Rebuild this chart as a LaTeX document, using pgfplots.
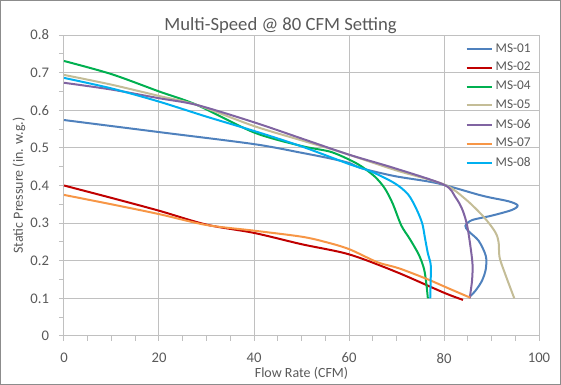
\documentclass[border=0pt]{standalone}
\usepackage{pgfplots}
\pgfplotsset{compat=1.18}
\usepackage{fontspec}
\setmainfont{Carlito}
\definecolor{txt}{HTML}{595959}
\definecolor{gridc}{HTML}{C0C0C0}
\definecolor{frame}{HTML}{8C8C8C}
\definecolor{c1}{HTML}{4F81BD}
\definecolor{c2}{HTML}{C00000}
\definecolor{c4}{HTML}{00B050}
\definecolor{c5}{HTML}{C4BD97}
\definecolor{c6}{HTML}{8064A2}
\definecolor{c7}{HTML}{F79646}
\definecolor{c8}{HTML}{00B0F0}
\begin{document}
\begin{tikzpicture}
\begin{axis}[
  scale only axis,
  width=356.25pt, height=225.75pt,
  xmin=0, xmax=100, ymin=0, ymax=0.8,
  xtick={0,20,...,100},
  ytick={0,0.1,...,0.8},
  minor x tick num=3,
  minor y tick num=1,
  xtick pos=left, ytick pos=left,
  tick align=outside,
  major tick length=3.75pt, minor tick length=3.75pt,
  every tick/.style={gridc, line width=0.75pt},
  grid=major,
  major grid style={gridc, line width=0.75pt},
  axis line style={gridc, line width=0.75pt},
  /pgf/number format/assume math mode=true,
  yticklabel style={/pgf/number format/fixed, /pgf/number format/precision=1},
  tick label style={font=\fontsize{11}{13}\selectfont, text=txt},
  xticklabel style={yshift=-5.5pt},
  yticklabel style={xshift=-4pt},
  xlabel={Flow Rate (CFM)},
  ylabel={Static Pressure (in. w.g.)},
  label style={font=\fontsize{10.5}{12}\selectfont, text=txt},
  xlabel style={yshift=4pt},
  ylabel style={yshift=-3pt},
  legend style={draw=none, fill=none, at={(0.845,0.982)}, anchor=north west,
    font=\fontsize{10}{12}\selectfont, text=txt, row sep=2.2pt,
    inner sep=0pt, legend cell align=left},
  legend image code/.code={\draw[#1, line width=1.5pt] (0pt,0pt) -- (19pt,0pt);},
  every axis plot/.append style={line width=1.5pt, smooth, tension=0.5},
  clip=false,
]
\coordinate (O) at (rel axis cs:0,0);
\addplot[c1] coordinates {(0,0.574)(20,0.542)(40,0.510)(50,0.487)(56,0.472)(60,0.460)(62.6,0.446)(69.6,0.425)(78.6,0.406)(88,0.373)(93.6,0.358)(95.5,0.347)(94.3,0.335)(90.1,0.320)(85.9,0.308)(84.5,0.293)(85.2,0.278)(87.3,0.253)(88.8,0.213)(88.8,0.178)(88,0.147)(86.6,0.120)(85.2,0.102)};
\addlegendentry{MS-01}
\addplot[c2] coordinates {(0,0.400)(10,0.367)(20,0.333)(30,0.296)(40,0.274)(50,0.244)(60,0.217)(70,0.170)(80,0.115)(84,0.096)};
\addlegendentry{MS-02}
\addplot[c4] coordinates {(0,0.731)(10,0.696)(20,0.650)(28,0.614)(40,0.541)(50,0.505)(56,0.490)(60,0.469)(62.6,0.451)(65.4,0.424)(67.5,0.393)(69.2,0.352)(71,0.294)(72.8,0.258)(74.7,0.216)(75.8,0.178)(76.3,0.137)(76.6,0.100)};
\addlegendentry{MS-04}
\addplot[c5] coordinates {(0,0.694)(10,0.668)(20,0.638)(28,0.614)(40,0.558)(50,0.520)(58,0.490)(70,0.440)(80,0.403)(84.5,0.364)(88.4,0.316)(90.8,0.276)(91.5,0.249)(91.7,0.209)(92.9,0.164)(94.8,0.100)};
\addlegendentry{MS-05}
\addplot[c6] coordinates {(0,0.673)(10,0.655)(20,0.632)(28,0.614)(40,0.568)(50,0.525)(60,0.482)(69.6,0.446)(80,0.402)(82.4,0.369)(83.8,0.338)(84.8,0.298)(85.5,0.244)(86,0.191)(85.9,0.147)(85.4,0.100)};
\addlegendentry{MS-06}
\addplot[c7] coordinates {(0,0.375)(10,0.350)(20,0.324)(30,0.295)(40,0.280)(50,0.264)(55,0.250)(60,0.231)(66,0.196)(70.5,0.180)(76.5,0.151)(80.7,0.128)(85.5,0.102)};
\addlegendentry{MS-07}
\addplot[c8] coordinates {(0,0.686)(10,0.658)(20,0.623)(30,0.583)(40,0.545)(50,0.504)(60,0.457)(64.7,0.437)(69.6,0.406)(72.4,0.377)(74.1,0.340)(75.4,0.300)(76,0.260)(76.6,0.220)(77.2,0.190)(77.2,0.150)(77.1,0.100)};
\addlegendentry{MS-08}
\end{axis}
\path ([shift={(-48pt,-36.75pt)}]O) rectangle ([shift={(372.75pt,252pt)}]O);
\draw[frame, line width=0.75pt] ([shift={(-47.625pt,-36.375pt)}]O) rectangle ([shift={(372.375pt,251.625pt)}]O);
\node[font=\fontsize{14}{16}\selectfont, text=txt] at ([shift={(162.4pt,232.75pt)}]O) {Multi-Speed @ 80 CFM Setting};
\end{tikzpicture}
\end{document}
